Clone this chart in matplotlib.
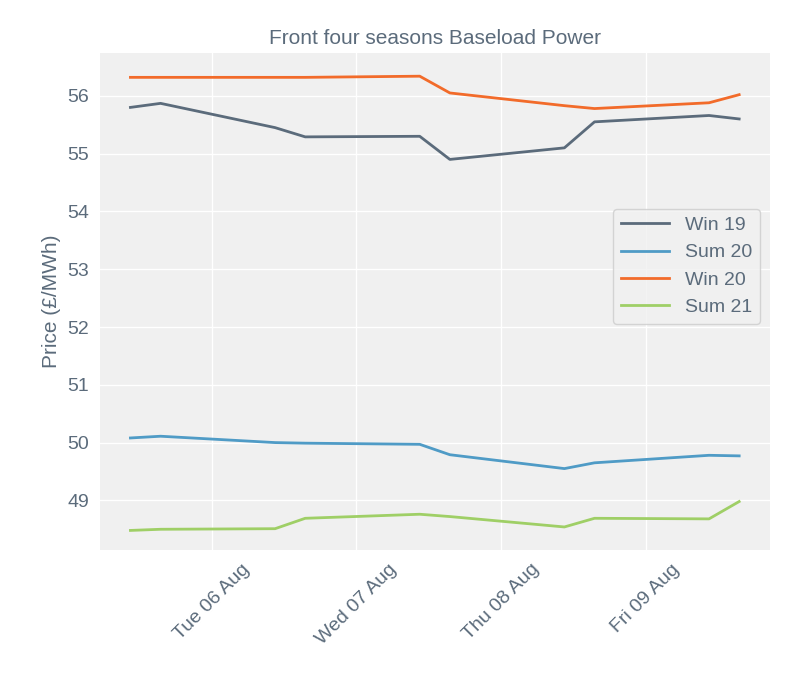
import matplotlib
matplotlib.use("Agg")
import matplotlib.pyplot as plt
import matplotlib.dates as mdates
import pandas as pd

plt.rcParams["font.family"] = "Liberation Sans"

times = pd.to_datetime([
    "2019-08-05 10:30", "2019-08-05 15:30", "2019-08-06 10:30", "2019-08-06 15:30",
    "2019-08-07 10:30", "2019-08-07 15:30", "2019-08-08 10:30", "2019-08-08 15:30",
    "2019-08-09 10:30", "2019-08-09 15:30"])
win19 = [55.80, 55.87, 55.45, 55.29, 55.30, 54.90, 55.10, 55.55, 55.66, 55.60]
sum20 = [50.08, 50.11, 50.00, 49.99, 49.97, 49.79, 49.55, 49.65, 49.78, 49.77]
win20 = [56.32, 56.32, 56.32, 56.32, 56.34, 56.05, 55.83, 55.78, 55.88, 56.02]
sum21 = [48.48, 48.50, 48.51, 48.69, 48.76, 48.72, 48.54, 48.69, 48.68, 48.98]
series = [("Win 19", win19, "#5b6b7b"), ("Sum 20", sum20, "#4f9bc6"),
          ("Win 20", win20, "#f26b2a"), ("Sum 21", sum21, "#9fcf66")]

tc = "#5b6b7b"
fig, ax = plt.subplots(figsize=(8, 7), dpi=100)
ax.set_facecolor("#f0f0f0")
for name, vals, c in series:
    ax.plot(times, vals, color=c, lw=2, label=name)
ax.grid(color="white", lw=1)
ax.set_axisbelow(True)
for s in ax.spines.values():
    s.set_visible(False)
ax.xaxis.set_major_locator(mdates.DayLocator(bymonthday=[6, 7, 8, 9]))
ax.xaxis.set_major_formatter(mdates.DateFormatter("%a %d %b"))
plt.setp(ax.get_xticklabels(), rotation=45, ha="center")
ax.tick_params(colors=tc, labelsize=14, length=0, pad=8)
ax.set_yticks(range(49, 57))
ax.set_ylim(48.15, 56.75)
ax.set_ylabel("Price (£/MWh)", color=tc, fontsize=15)
ax.set_title("Front four seasons Baseload Power", color=tc, fontsize=15)
leg = ax.legend(loc="center right", fontsize=14, frameon=True, facecolor="#f0f0f0",
                edgecolor="#cccccc", bbox_to_anchor=(1.0, 0.57), handlelength=2.5)
for t in leg.get_texts():
    t.set_color(tc)
plt.subplots_adjust(left=0.125, right=0.962, top=0.925, bottom=0.215)
fig.savefig("out.png")
